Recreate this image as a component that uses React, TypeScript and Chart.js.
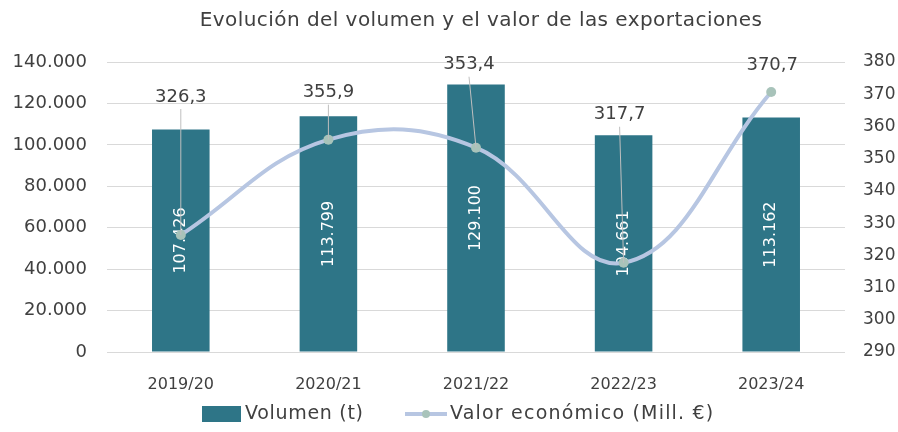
import React, { useEffect, useRef } from "react";
import { Chart, registerables } from "chart.js";

Chart.register(...registerables);

// ---- data ----
const title = "Evolución del volumen y el valor de las exportaciones";
const categories = ["2019/20", "2020/21", "2021/22", "2022/23", "2023/24"];
const volumen = [107426, 113799, 129100, 104661, 113162];
const valor = [326.3, 355.9, 353.4, 317.7, 370.7];
const volumenLabel = "Volumen (t)";
const valorLabel = "Valor económico (Mill. €)";
const leftMin = 0;
const leftMax = 140000;
const leftStep = 20000;
const rightMin = 290;
const rightMax = 380;
const rightStep = 10;

// ---- styles ----
const FONT = '"DejaVu Sans", sans-serif';
const TEXT = "#404040";
const BAR = "#2E7587";
const LINE = "#B7C6E2";
const POINT = "#A8C3BA";
const GRID = "#D9D9D9";
// label offset (px) from point to label centre, as dragged in the original
const labelOffsets: [number, number][] = [
  [0, -138],
  [0, -47],
  [-7, -83],
  [-4, -148],
  [1, -27],
];

const fmtThousands = (v: number) =>
  String(Math.round(v)).replace(/\B(?=(\d{3})+(?!\d))/g, ".");
const fmtDecimal = (v: number) => v.toFixed(1).replace(".", ",");

const overlay = {
  id: "overlay",
  afterDatasetDraw(chart: any, args: any) {
    if (args.index !== 0) return;
    const meta = chart.getDatasetMeta(0);
    const ctx = chart.ctx;
    ctx.save();
    ctx.fillStyle = "#ffffff";
    ctx.font = `16px ${FONT}`;
    ctx.textAlign = "center";
    ctx.textBaseline = "middle";
    meta.data.forEach((bar: any, i: number) => {
      const { x, y, base } = bar.getProps(["x", "y", "base"], true);
      ctx.save();
      ctx.translate(x, (y + base) / 2);
      ctx.rotate(-Math.PI / 2);
      ctx.fillText(fmtThousands(volumen[i]), 0, 0);
      ctx.restore();
    });
    ctx.restore();
  },
  afterDatasetsDraw(chart: any) {
    const ctx = chart.ctx;
    const meta = chart.getDatasetMeta(1);
    ctx.save();
    ctx.font = `18px ${FONT}`;
    ctx.textAlign = "center";
    ctx.textBaseline = "middle";
    meta.data.forEach((pt: any, i: number) => {
      const { x, y } = pt.getProps(["x", "y"], true);
      const [dx, dy] = labelOffsets[i];
      const lx = x + dx;
      const ly = y + dy;
      if (Math.abs(dy) > 35) {
        ctx.strokeStyle = "#BFBFBF";
        ctx.lineWidth = 1;
        ctx.beginPath();
        ctx.moveTo(lx, ly + 12);
        ctx.lineTo(x, y);
        ctx.stroke();
      }
      ctx.fillStyle = TEXT;
      ctx.fillText(fmtDecimal(valor[i]), lx, ly);
    });

    // title
    const ca = chart.chartArea;
    ctx.fillStyle = TEXT;
    ctx.font = `20px ${FONT}`;
    (ctx as any).letterSpacing = "0.45px";
    ctx.fillText(title, (ca.left + ca.right) / 2 + 5, 21);

    // legend
    const ly = 414;
    ctx.font = `19px ${FONT}`;
    (ctx as any).letterSpacing = "0.7px";
    ctx.textAlign = "left";
    ctx.fillStyle = BAR;
    ctx.fillRect(202, ly - 8, 39, 16);
    ctx.fillStyle = TEXT;
    ctx.fillText(volumenLabel, 245, ly);
    ctx.strokeStyle = LINE;
    ctx.lineWidth = 4;
    ctx.beginPath();
    ctx.moveTo(405, ly);
    ctx.lineTo(447, ly);
    ctx.stroke();
    ctx.fillStyle = POINT;
    ctx.beginPath();
    ctx.arc(426, ly, 4, 0, Math.PI * 2);
    ctx.fill();
    ctx.fillStyle = TEXT;
    (ctx as any).letterSpacing = "1.2px";
    ctx.fillText(valorLabel, 450, ly);
    ctx.restore();
  },
};

export default function App() {
  const ref = useRef<HTMLCanvasElement | null>(null);
  useEffect(() => {
    if (!ref.current) return;
    const chart = new Chart(ref.current, {
      type: "bar",
      data: {
        labels: categories,
        datasets: [
          {
            type: "bar",
            label: volumenLabel,
            data: volumen,
            backgroundColor: BAR,
            yAxisID: "y",
            barPercentage: 0.39,
            categoryPercentage: 1,
            order: 1,
          },
          {
            type: "line",
            label: valorLabel,
            data: valor,
            borderColor: LINE,
            borderWidth: 4,
            tension: 0.4,
            pointRadius: 5,
            pointBackgroundColor: POINT,
            pointBorderColor: POINT,
            pointBorderWidth: 0,
            yAxisID: "y1",
            order: 0,
          } as any,
        ],
      },
      options: {
        animation: false,
        responsive: false,
        layout: { padding: { top: 62, left: 0, right: 0, bottom: 0 } },
        plugins: {
          legend: { display: false },
          title: { display: false },
          tooltip: { enabled: false },
        },
        scales: {
          x: {
            grid: { display: false },
            border: { display: false },
            ticks: {
              color: TEXT,
              font: { family: FONT, size: 16 },
              padding: 15,
            },
            afterFit: (s: any) => {
              s.height = 80;
            },
          },
          y: {
            position: "left",
            min: leftMin,
            max: leftMax,
            grid: { color: GRID, drawTicks: false, lineWidth: 1 },
            border: { display: false },
            ticks: {
              stepSize: leftStep,
              color: TEXT,
              font: { family: FONT, size: 18 },
              padding: 20,
              callback: (v: any) => fmtThousands(Number(v)),
            },
            afterFit: (s: any) => {
              s.width = 107;
            },
          },
          y1: {
            position: "right",
            min: rightMin,
            max: rightMax,
            grid: { drawOnChartArea: false, drawTicks: false },
            border: { display: false },
            ticks: {
              stepSize: rightStep,
              color: TEXT,
              font: { family: FONT, size: 17 },
              padding: 18,
            },
            afterFit: (s: any) => {
              s.width = 53;
            },
          },
        },
      },
      plugins: [overlay],
    });
    return () => chart.destroy();
  }, []);
  return (
    <div style={{ position: "absolute", left: 0, top: 0, width: 898, height: 432, background: "#fff" }}>
      <canvas ref={ref} width={898} height={432} />
    </div>
  );
}
